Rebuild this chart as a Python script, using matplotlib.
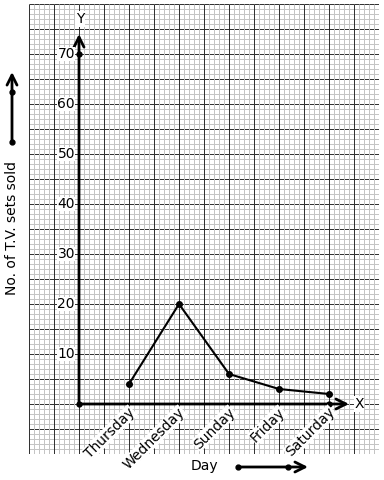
import matplotlib
matplotlib.use("Agg")
import matplotlib.pyplot as plt
from matplotlib.patches import FancyArrowPatch
from matplotlib.lines import Line2D
import numpy as np

days = ["Thursday", "Wednesday", "Sunday", "Friday", "Saturday"]
sets_sold = [4, 20, 6, 3, 2]
y_labels = [10, 20, 30, 40, 50, 60, 70]

fig = plt.figure(figsize=(3.84, 4.8), dpi=100)
ax = fig.add_axes([29 / 384, 1 - 454 / 480, 350 / 384, 450 / 480])
ax.set_xlim(-1, 6)
ax.set_ylim(-10, 80)
ax.set_xticks([])
ax.set_yticks([])
for s in ax.spines.values():
    s.set_visible(False)

# graph paper: minor vertical lines sit over the major horizontals,
# which gives the broken look of the reference
px = 0.72  # one pixel in points at 100 dpi
ax.hlines(np.round(np.arange(-10, 80.01, 1), 3), -1, 6, color="#c4c4c4",
          lw=px, zorder=0.3, snap=True)
ax.hlines(np.round(np.arange(-10, 80.01, 5), 3), -1, 6, color="#333333",
          lw=px, zorder=0.4, snap=True)
ax.vlines(np.round(np.arange(-1, 6.01, 0.1), 3), -10, 80, color="#c4c4c4",
          lw=px, zorder=0.5, snap=True)
ax.vlines(np.round(np.arange(-1, 6.01, 0.5), 3), -10, 80, color="#333333",
          lw=px, zorder=0.6, snap=True)

# axes with arrows
ax.annotate("", xy=(0, 74), xytext=(0, 0),
            arrowprops=dict(arrowstyle="->", lw=2, color="black",
                            shrinkA=0, shrinkB=0, mutation_scale=18))
ax.annotate("", xy=(5.4, 0), xytext=(0, 0),
            arrowprops=dict(arrowstyle="->", lw=2, color="black",
                            shrinkA=0, shrinkB=0, mutation_scale=18))
ax.text(0.02, 77, "Y", ha="center", va="center", fontsize=10,
        bbox=dict(fc="white", ec="none", pad=0.5))
ax.text(5.6, 0, "X", ha="center", va="center", fontsize=10,
        bbox=dict(fc="white", ec="none", pad=0.5))
ax.plot([0, 0, 5], [0, 70, 0], "o", color="black", ms=3.5)

for v in y_labels:
    ax.text(-0.08, v, str(v), ha="right", va="center", fontsize=10,
            bbox=dict(fc="white", ec="none", pad=0.3))

xs = np.arange(1, len(days) + 1)
ax.plot(xs, sets_sold, "-o", color="black", lw=1.5, ms=4)

for x, d in zip(xs, days):
    ax.text(x - 0.03, -0.2, d, rotation=45, ha="right", va="top", fontsize=10,
            rotation_mode="anchor",
            bbox=dict(fc="white", ec="none", pad=0.3))

fig.text(12 / 384, 1 - 228 / 480, "No. of T.V. sets sold", rotation=90,
         ha="center", va="center", fontsize=10)
fig.text(204 / 384, 1 - 466 / 480, "Day", ha="center", va="center", fontsize=10)

# decorative arrows beside the labels (display pixels, origin bottom-left)
fig.add_artist(FancyArrowPatch(
    (12, 480 - 142), (12, 480 - 72), transform=None, arrowstyle="->", lw=2,
    mutation_scale=18, color="black", shrinkA=0, shrinkB=0))
fig.add_artist(Line2D([12, 12], [480 - 142, 480 - 92], transform=None,
                      ls="none", marker="o", ms=3.5, color="black"))
fig.add_artist(FancyArrowPatch(
    (238, 13), (308, 13), transform=None, arrowstyle="->", lw=2,
    mutation_scale=18, color="black", shrinkA=0, shrinkB=0))
fig.add_artist(Line2D([238, 288], [13, 13], transform=None,
                      ls="none", marker="o", ms=3.5, color="black"))

fig.savefig("out.png", dpi=100)
